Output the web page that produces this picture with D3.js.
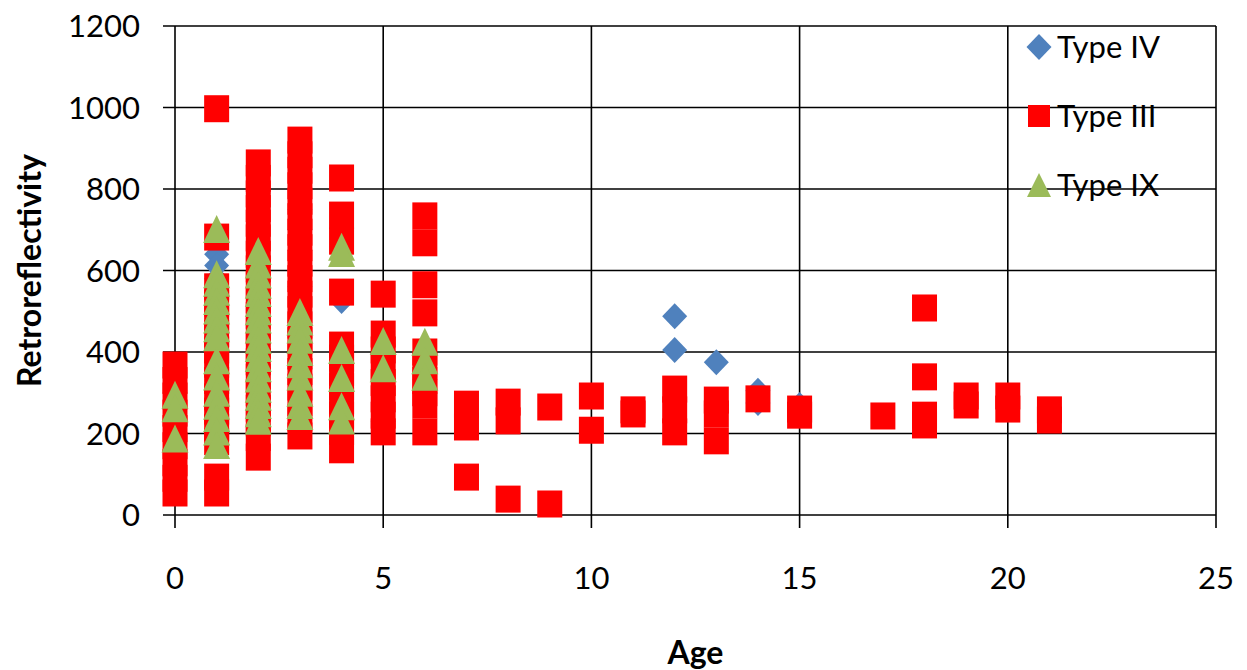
<!DOCTYPE html>
<html>
<head>
<meta charset="utf-8">
<script src="https://cdn.jsdelivr.net/npm/d3@7"></script>
<style>
  html, body { margin: 0; padding: 0; background: #fff; }
  svg { display: block; }
  text { font-family: Lato, "Open Sans", sans-serif; fill: #000; }
</style>
</head>
<body>
<svg id="chart" width="1247" height="670"></svg>
<script>
// ---------- data ----------
const xTicks = [0, 5, 10, 15, 20, 25];
const yTicks = [0, 200, 400, 600, 800, 1000, 1200];
const seriesNames = ["Type IV", "Type III", "Type IX"];

// [age, retroreflectivity]
const typeIV = [
  [0, 300],
  [1, 640], [1, 612], [1, 580], [1, 540], [1, 500], [1, 460],
  [2, 790], [2, 420],
  [3, 750], [3, 700], [3, 650], [3, 600], [3, 560], [3, 500], [3, 450], [3, 400], [3, 360],
  [4, 525], [4, 360],
  [5, 230],
  [12, 488], [12, 405],
  [13, 375], [13, 270],
  [14, 305], [14, 275],
  [15, 270]
];

const typeIII = [
  [0, 368], [0, 330], [0, 292], [0, 250], [0, 212], [0, 170], [0, 128], [0, 90], [0, 54],
  [1, 997], [1, 682], [1, 560], [1, 520], [1, 480], [1, 445], [1, 405],
  [1, 370], [1, 330], [1, 290], [1, 255], [1, 215], [1, 180], [1, 93], [1, 54],
  [2, 864], [2, 826], [2, 788], [2, 752], [2, 716], [2, 680], [2, 640], [2, 604], [2, 566],
  [2, 528], [2, 490], [2, 452], [2, 414], [2, 376], [2, 338], [2, 300], [2, 262], [2, 226],
  [2, 190], [2, 142],
  [3, 920], [3, 884], [3, 846], [3, 808], [3, 770], [3, 732], [3, 694], [3, 656], [3, 618],
  [3, 580], [3, 542], [3, 504], [3, 466], [3, 428], [3, 390], [3, 352], [3, 314], [3, 276],
  [3, 238], [3, 194],
  [4, 827], [4, 736], [4, 672], [4, 547], [4, 417], [4, 385], [4, 350], [4, 315], [4, 280],
  [4, 245], [4, 205], [4, 160],
  [5, 542], [5, 444], [5, 405], [5, 365], [5, 325], [5, 285], [5, 245], [5, 204],
  [6, 734], [6, 668], [6, 565], [6, 496], [6, 400], [6, 365], [6, 330], [6, 300], [6, 270], [6, 204],
  [7, 272], [7, 216], [7, 93],
  [8, 277], [8, 231], [8, 39],
  [9, 265], [9, 27],
  [10, 292], [10, 208],
  [11, 258], [11, 248],
  [12, 309], [12, 258], [12, 204],
  [13, 282], [13, 248], [13, 182],
  [14, 285],
  [15, 260], [15, 245],
  [17, 243],
  [18, 508], [18, 339], [18, 245], [18, 221],
  [19, 292], [19, 270],
  [20, 292], [20, 260],
  [21, 258], [21, 233]
];

const typeIX = [
  [0, 295], [0, 262], [0, 188],
  [1, 702], [1, 591], [1, 570], [1, 548], [1, 525], [1, 502], [1, 480], [1, 458], [1, 436],
  [1, 380], [1, 340], [1, 300], [1, 268], [1, 238], [1, 205], [1, 172],
  [2, 648], [2, 615], [2, 590], [2, 565], [2, 545], [2, 520], [2, 500], [2, 480], [2, 455],
  [2, 430], [2, 410], [2, 385], [2, 360], [2, 335], [2, 310], [2, 290], [2, 270], [2, 250], [2, 231],
  [3, 498], [3, 475], [3, 455], [3, 430], [3, 400], [3, 370], [3, 340], [3, 300], [3, 270], [3, 243],
  [4, 658], [4, 643], [4, 405], [4, 336], [4, 267], [4, 232],
  [5, 427], [5, 360],
  [6, 425], [6, 380], [6, 339]
];

// ---------- layout ----------
const svg = d3.select("#chart");
const pLeft = 175, pRight = 1216, pTop = 26, pBottom = 515;
const x = d3.scaleLinear().domain([0, 25]).range([pLeft, pRight]);
const y = d3.scaleLinear().domain([0, 1200]).range([pBottom, pTop]);

const colors = { "Type IV": "#4F81BD", "Type III": "#FF0000", "Type IX": "#9BBB59" };

// grid lines
const grid = svg.append("g");
grid.selectAll("line.h").data(yTicks).join("line").attr("class", "h")
  .attr("x1", pLeft - 12).attr("x2", pRight)
  .attr("y1", d => y(d)).attr("y2", d => y(d))
  .attr("stroke", "#000").attr("stroke-width", 1.6);
grid.selectAll("line.v").data(xTicks).join("line").attr("class", "v")
  .attr("x1", d => x(d)).attr("x2", d => x(d))
  .attr("y1", pTop).attr("y2", pBottom + 13)
  .attr("stroke", "#000").attr("stroke-width", 1.6);

// tick labels
svg.append("g").selectAll("text").data(yTicks).join("text")
  .attr("x", 140).attr("y", d => y(d))
  .attr("dy", "0.36em")
  .attr("text-anchor", "end")
  .style("font-size", "31px")
  .text(d => d);

svg.append("g").selectAll("text").data(xTicks).join("text")
  .attr("x", d => x(d)).attr("y", 578)
  .attr("dy", "0.36em")
  .attr("text-anchor", "middle")
  .style("font-size", "31px")
  .text(d => d);

// axis titles
svg.append("text")
  .attr("x", (pLeft + pRight) / 2).attr("y", 652)
  .attr("dy", "0.36em")
  .attr("text-anchor", "middle")
  .style("font-size", "32px").style("font-weight", "bold")
  .text("Age");

svg.append("text")
  .attr("transform", `translate(29, ${(pTop + pBottom) / 2}) rotate(-90)`)
  .attr("dy", "0.36em")
  .attr("text-anchor", "middle")
  .style("font-size", "32px").style("font-weight", "bold")
  .text("Retroreflectivity");

// ---------- markers ----------
const diamond = "M0,-13 L12.5,0 L0,13 L-12.5,0 Z";
const tri = "M0,-14 L13.5,14 L-13.5,14 Z";

function drawDiamonds(g, data) {
  g.selectAll("path").data(data).join("path")
    .attr("d", diamond)
    .attr("transform", d => `translate(${x(d[0])},${y(d[1])})`)
    .attr("fill", colors["Type IV"]);
}
function drawSquares(g, data) {
  g.selectAll("rect").data(data).join("rect")
    .attr("x", d => x(d[0]) - 12.5).attr("y", d => y(d[1]) - 13.5)
    .attr("width", 25).attr("height", 27)
    .attr("fill", colors["Type III"]);
}
function drawTriangles(g, data) {
  g.selectAll("path").data(data).join("path")
    .attr("d", tri)
    .attr("transform", d => `translate(${x(d[0])},${y(d[1])})`)
    .attr("fill", colors["Type IX"]);
}

drawDiamonds(svg.append("g"), typeIV);
drawSquares(svg.append("g"), typeIII);
drawTriangles(svg.append("g"), typeIX);

// ---------- legend ----------
const legendRows = [47, 116, 185];
const lg = svg.append("g");
seriesNames.forEach((name, i) => {
  const cy = legendRows[i];
  if (i === 0) {
    lg.append("path").attr("d", diamond).attr("transform", `translate(1039,${cy})`).attr("fill", colors[name]);
  } else if (i === 1) {
    lg.append("rect").attr("x", 1028).attr("y", cy - 11).attr("width", 22).attr("height", 22).attr("fill", colors[name]);
  } else {
    lg.append("path").attr("d", "M0,-12 L12,12 L-12,12 Z").attr("transform", `translate(1039,${cy})`).attr("fill", colors[name]);
  }
  lg.append("text")
    .attr("x", 1057).attr("y", cy)
    .attr("dy", "0.36em")
    .style("font-size", "31px")
    .text(name);
});
</script>
</body>
</html>
